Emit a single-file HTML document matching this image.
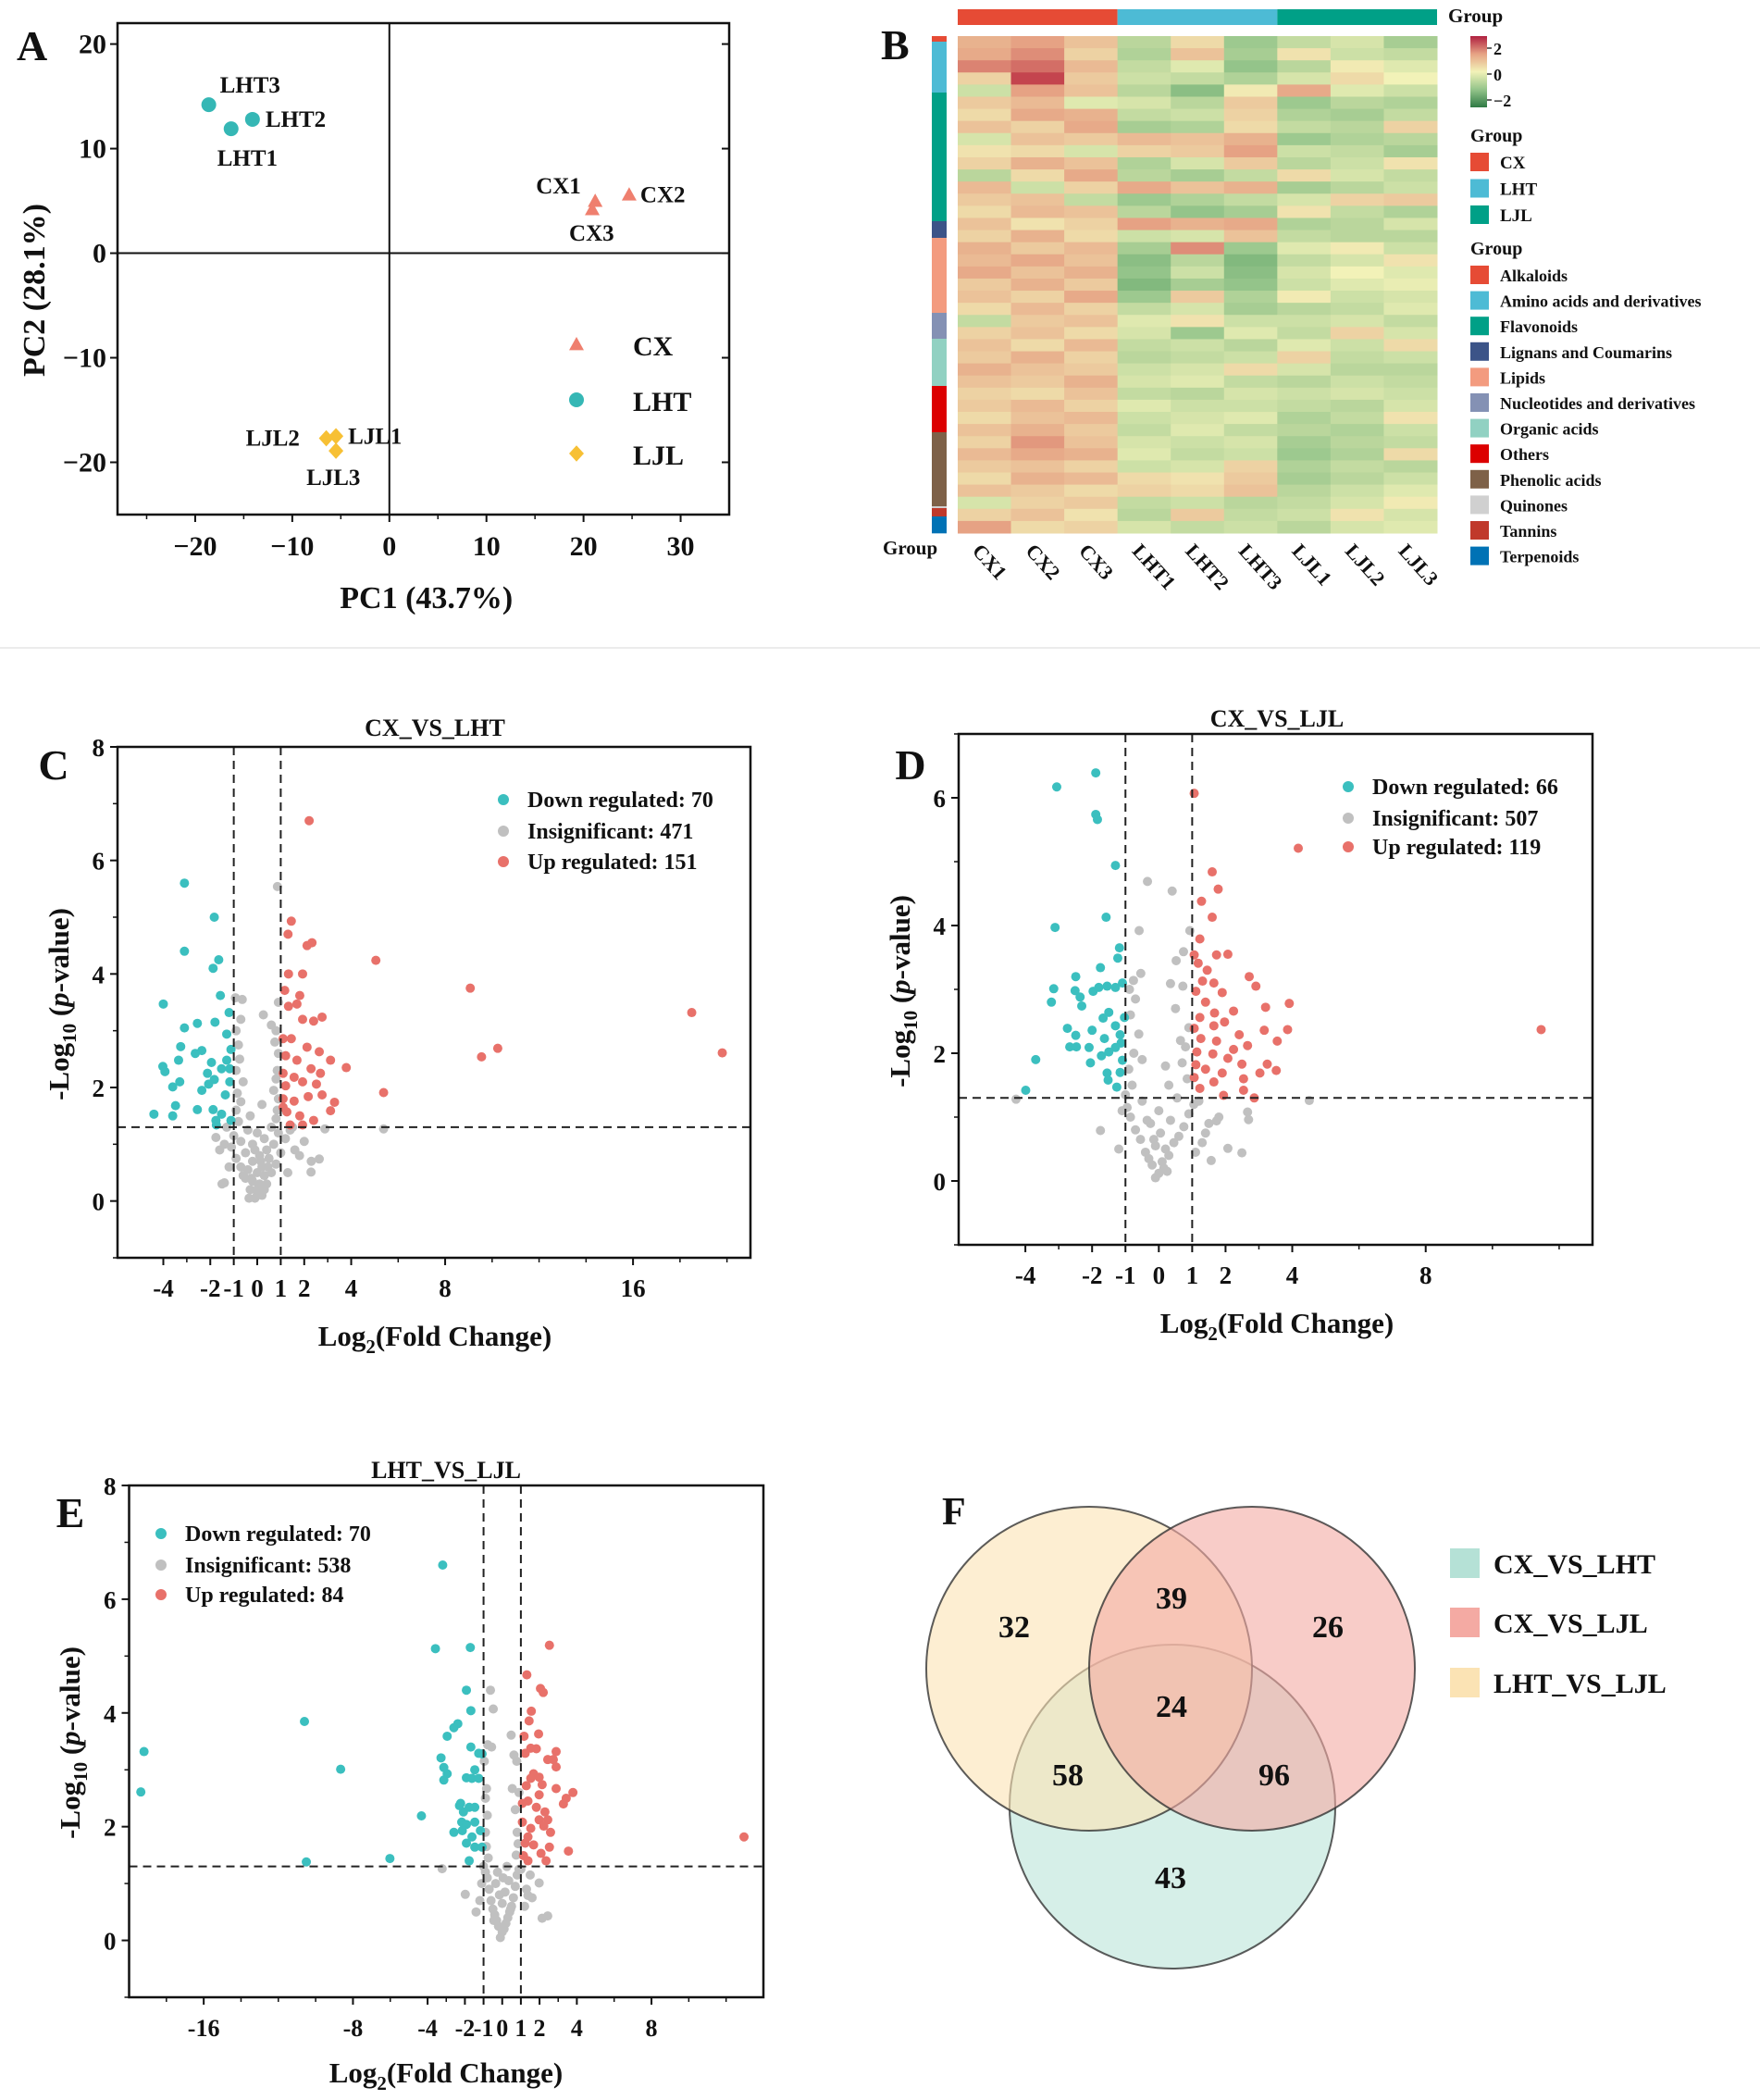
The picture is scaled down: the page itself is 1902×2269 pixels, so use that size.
<!DOCTYPE html>
<html><head><meta charset="utf-8"><style>
html,body{margin:0;padding:0;background:#fff}
svg{display:block}
text{font-family:"Liberation Serif",serif;font-weight:bold;fill:#111}
</style></head><body>
<svg id="fig" width="1902" height="2269" viewBox="0 0 1902 2269" xmlns="http://www.w3.org/2000/svg">
<line x1="0" y1="700" x2="1902" y2="700" stroke="#ececec" stroke-width="2"/>
<g id="pA"></g>
<g id="pB"></g>
<g id="pC"></g>
<g id="pD"></g>
<g id="pE"></g>
<g id="pF"></g>
</svg>
<script>
// ---------- Panel A data ----------
const pcaNames = ["LHT3","LHT2","LHT1","CX1","CX2","CX3","LJL2","LJL1","LJL3"];
const pcaX = [-18.6,-14.1,-16.3,21.2,24.7,20.9,-6.5,-5.5,-5.5];
const pcaY = [14.2,12.8,11.9,5.0,5.6,4.2,-17.7,-17.5,-18.9];
const pcaGroup = ["LHT","LHT","LHT","CX","CX","CX","LJL","LJL","LJL"];
const pcaXTicks = [-20,-10,0,10,20,30];
const pcaYTicks = [-20,-10,0,10,20];
// ---------- Panel B data ----------
const hmCols = ["CX1","CX2","CX3","LHT1","LHT2","LHT3","LJL1","LJL2","LJL3"];
const hmVals = [
[0.8,1.0,0.6,-0.6,0.3,-0.9,-0.5,-0.3,-0.8],
[0.9,1.2,0.4,-0.7,0.6,-0.8,0.2,-0.4,-0.5],
[1.3,1.5,0.7,-0.5,-0.2,-1.0,-0.6,0.1,-0.2],
[0.4,1.9,0.5,-0.4,-0.5,-0.7,-0.3,0.3,0.0],
[-0.4,1.0,0.6,-0.6,-1.1,0.1,0.9,-0.2,-0.4],
[0.5,0.7,-0.2,-0.3,-0.6,0.5,-0.9,-0.6,-0.7],
[0.3,0.9,0.8,-0.5,-0.4,0.4,-0.7,-0.8,-0.5],
[0.6,0.4,0.9,-0.8,-0.7,0.3,-0.5,-0.6,0.4],
[-0.3,0.6,0.5,0.7,0.6,0.8,-0.9,-0.7,-0.6],
[0.2,0.3,-0.3,0.4,0.5,1.0,-0.4,-0.5,-0.8],
[0.4,0.8,0.6,-0.7,-0.3,0.5,-0.6,-0.4,0.2],
[-0.6,0.3,0.9,-0.6,-0.8,-0.5,0.3,-0.3,-0.5],
[0.7,-0.4,0.4,0.9,0.6,0.8,-0.8,-0.6,-0.4],
[0.5,0.6,-0.5,-0.9,-0.7,-0.5,-0.3,0.4,0.5],
[0.3,0.7,0.6,-0.6,-1.0,-0.8,0.2,-0.5,-0.7],
[0.6,0.2,0.4,1.0,0.8,0.9,-0.7,-0.6,-0.3],
[0.4,0.8,0.3,-0.4,-0.3,0.6,-0.5,-0.6,-0.6],
[0.8,0.5,0.7,-0.8,1.2,-0.9,-0.2,0.1,-0.4],
[0.7,0.9,0.6,-1.1,-0.6,-1.2,-0.5,-0.3,0.2],
[0.9,0.6,0.8,-1.0,-0.4,-1.1,-0.3,0.0,-0.2],
[0.5,0.8,0.5,-1.2,-0.8,-1.0,-0.4,-0.2,-0.1],
[0.6,0.4,0.9,-0.9,0.5,-0.7,0.1,-0.4,-0.3],
[0.3,0.7,0.4,-0.5,-0.3,-0.8,-0.6,-0.5,-0.2],
[-0.5,0.5,0.6,-0.2,0.2,-0.4,-0.4,-0.3,-0.5],
[0.4,0.6,0.3,-0.3,-0.9,-0.2,-0.5,0.4,-0.3],
[0.6,0.3,0.7,-0.5,-0.4,-0.6,-0.2,-0.4,0.3],
[0.5,0.8,0.4,-0.6,-0.5,-0.4,0.4,-0.5,-0.4],
[0.8,0.6,0.5,-0.4,-0.3,0.3,-0.3,-0.6,-0.6],
[0.6,0.5,0.8,-0.3,-0.2,-0.5,-0.6,-0.4,-0.5],
[0.4,0.3,0.6,-0.5,-0.6,-0.3,-0.4,-0.3,-0.4],
[0.5,0.7,0.4,-0.2,-0.4,-0.4,-0.5,-0.6,-0.3],
[0.3,0.6,0.7,-0.4,-0.3,-0.2,-0.7,-0.5,0.2],
[0.6,0.8,0.5,-0.5,-0.2,-0.5,-0.6,-0.7,-0.4],
[0.4,1.1,0.6,-0.3,-0.4,-0.3,-0.8,-0.6,-0.5],
[0.7,0.9,0.8,-0.2,-0.5,-0.4,-0.9,-0.7,0.3],
[0.5,0.6,0.4,-0.4,-0.3,0.4,-0.7,-0.5,-0.6],
[0.3,0.8,0.7,0.3,0.2,0.5,-0.8,-0.6,-0.4],
[0.6,0.5,0.3,0.4,0.3,0.6,-0.6,-0.4,-0.2],
[-0.3,0.4,0.5,-0.5,-0.4,-0.6,-0.5,-0.3,0.1],
[0.4,0.6,0.2,-0.6,0.5,-0.5,-0.4,0.2,-0.3],
[1.0,0.3,0.4,-0.3,-0.5,-0.4,-0.6,-0.3,-0.2]
];
const catNames = ["Alkaloids","Amino acids and derivatives","Flavonoids","Lignans and Coumarins","Lipids","Nucleotides and derivatives","Organic acids","Others","Phenolic acids","Quinones","Tannins","Terpenoids"];
const catColors = ["#e64b35","#4dbbd5","#00a087","#3c5488","#f39b7f","#8491b4","#91d1c2","#dc0000","#7e6148","#d0d0d0","#c0392b","#0072b5"];
const catCounts = [6,55,139,18,81,28,51,50,80,2,9,18];
const grpNames = ["CX","LHT","LJL"];
const grpColors = ["#e64b35","#4dbbd5","#00a087"];
// ---------- Volcano data ----------
const cTitle="CX_VS_LHT", cCounts=[70,471,151];
const cDownX=[-3.1,-1.83,-3.1,-1.64,-1.88,-1.57,-4,-1.2,-3.1,-2.55,-1.8,-1.3,-3.26,-2.36,-2.64,-1.12,-4.02,-3.35,-1.95,-1.3,-3.93,-2.12,-1.83,-1.52,-1.17,-3.3,-2.36,-3.6,-2.07,-1.36,-4.4,-3.6,-3.48,-2.55,-1.88,-1.76,-1.52,-1.12,-1.17,-1.74];
const cDownY=[5.6,5.0,4.4,4.25,4.1,3.62,3.47,3.32,3.05,3.13,3.15,2.94,2.72,2.65,2.6,2.67,2.37,2.48,2.44,2.48,2.28,2.25,2.14,2.33,2.33,2.1,1.95,2.01,2.06,1.87,1.53,1.5,1.68,1.61,1.61,1.42,1.53,1.42,2.1,1.34];
const cUpX=[2.21,1.45,1.31,2.33,2.12,5.05,9.07,18.5,19.8,10.24,9.55,5.38,3.79,3.12,1.93,1.33,1.17,1.81,1.69,2.76,2.4,1.33,1.93,1.1,1.45,2.12,2.64,1.21,1.69,1.1,1.57,2.29,2.69,1.21,1.93,2.52,1.1,1.57,2.17,3.29,1.26,1.81,2.4,3.12,1.4,1.93,1.1,2.76];
const cUpY=[6.7,4.93,4.7,4.55,4.5,4.24,3.75,3.32,2.61,2.69,2.54,1.91,2.35,2.48,4.0,4.0,3.71,3.62,3.47,3.24,3.17,3.43,3.2,2.86,2.86,2.71,2.63,2.56,2.48,2.25,2.18,2.33,2.25,2.03,2.1,2.06,1.8,1.76,1.84,1.74,1.57,1.5,1.42,1.59,1.34,1.34,1.65,1.87];
const cNsX=[0.86,-0.93,-0.64,0.26,0.9,5.38,2.88,2.64,2.29,-1.4,-1.76,-0.1,0,0.2,-0.3,0.1,-0.2,0.4,-0.5,0.3,0,-0.4,0.6,-0.7,0.2,0.8,-0.2,0.5,-0.9,0.1,-0.5,1.0,0.4,-1.1,-0.2,0.7,-0.7,0.3,1.2,-1.0,0.0,0.9,-0.4,0.6,-1.3,1.4,-0.8,0.8,-0.9,0.85,-0.7,0.9,-0.85,0.7,-0.6,0.8,-0.9,0.85,-0.75,0.9,-0.8,0.75,-0.9,0.6,-0.7,0.8,-1.5,-1.2,1.3,1.6,-1.4,1.8,2.0,2.3,-1.6,1.5,-0.3,0.2,-0.1,0.3,-0.35,0.05,-0.25,0.45,-0.6,0.15];
const cNsY=[5.54,3.58,3.55,3.28,3.5,1.27,1.27,0.74,0.51,0.32,1.12,0.05,0.15,0.1,0.2,0.3,0.35,0.3,0.4,0.45,0.5,0.55,0.5,0.6,0.6,0.65,0.7,0.75,0.75,0.8,0.85,0.85,0.9,0.95,1.0,1.0,1.05,1.1,1.1,1.15,1.2,1.2,1.25,1.3,1.3,1.25,1.4,1.45,1.6,1.6,1.75,1.8,1.9,1.95,2.1,2.15,2.3,2.3,2.5,2.6,2.75,2.8,3.0,3.1,3.2,3.0,0.3,0.6,0.5,0.9,1.0,0.8,1.05,0.7,0.9,1.3,1.5,1.7,0.9,0.2,0.05,0.25,0.4,0.6,0.45,0.7];
const cXTicks=[-4,-2,-1,0,1,2,4,8,16];
const dTitle="CX_VS_LJL", dCounts=[66,507,119];
const dDownX=[-1.89,-3.06,-1.89,-1.84,-1.3,-1.58,-3.11,-1.18,-1.23,-1.75,-2.49,-3.15,-3.22,-2.51,-1.97,-1.8,-1.55,-1.3,-1.09,-2.36,-2.31,-1.5,-1.67,-1.03,-2.74,-2.0,-1.3,-1.16,-2.49,-1.63,-1.13,-2.67,-2.47,-2.09,-1.3,-1.72,-1.5,-1.09,-2.05,-3.69,-1.55,-1.16,-1.52,-1.26,-3.99];
const dDownY=[6.39,6.17,5.74,5.66,4.94,4.13,3.97,3.65,3.49,3.34,3.2,3.01,2.8,2.98,2.97,3.03,3.05,3.03,3.1,2.88,2.74,2.64,2.55,2.56,2.39,2.36,2.43,2.29,2.28,2.23,2.16,2.1,2.1,2.09,2.09,1.96,2.02,1.89,1.85,1.9,1.69,1.7,1.58,1.47,1.42];
const dUpX=[1.06,4.18,1.6,1.78,1.28,1.6,1.23,1.06,1.73,2.07,1.18,1.45,2.71,2.91,1.65,1.31,1.11,1.9,3.91,1.4,3.2,2.24,1.67,1.23,1.97,1.06,1.65,3.16,3.86,2.41,1.26,1.73,3.55,2.66,2.24,1.14,1.62,2.07,2.49,3.25,1.11,1.4,3.52,3.03,1.9,1.06,1.65,2.54,1.23,2.54,2.86,1.94,11.46];
const dUpY=[6.07,5.21,4.84,4.57,4.38,4.13,3.79,3.54,3.54,3.55,3.41,3.3,3.2,3.05,3.1,3.13,2.97,2.95,2.78,2.8,2.72,2.66,2.63,2.56,2.49,2.39,2.43,2.36,2.37,2.29,2.23,2.19,2.19,2.12,2.06,2.02,1.99,1.92,1.83,1.83,1.82,1.75,1.73,1.69,1.69,1.62,1.55,1.6,1.45,1.42,1.3,1.34,2.37];
const dNsX=[-0.34,0.4,-0.59,0.93,0.74,0.52,-0.54,-0.76,0.35,0.72,-0.88,-4.28,4.51,-1.75,2.66,2.69,2.07,2.49,1.57,1.73,-0.1,0,0.15,-0.2,0.1,-0.3,0.3,-0.4,0.2,-0.1,0.45,-0.55,0.6,0.05,-0.7,0.75,-0.25,0.35,-0.85,0.9,0.0,-0.95,1.05,-0.5,0.55,-1.0,1.2,-0.8,0.85,-0.9,0.7,-0.75,0.8,-0.6,0.9,-0.85,0.5,-0.7,0.65,-0.5,0.3,1.3,1.5,-1.2,1.8,1.4,-1.1,1.1,0.2,-0.15,0.25,-0.35];
const dNsY=[4.69,4.54,3.92,3.92,3.59,3.45,3.25,3.14,3.09,3.05,3.0,1.28,1.26,0.79,1.08,0.96,0.51,0.44,0.32,0.94,0.05,0.12,0.2,0.25,0.3,0.35,0.4,0.45,0.5,0.55,0.6,0.65,0.7,0.75,0.8,0.85,0.9,0.95,1.0,1.05,1.1,1.15,1.2,1.25,1.3,1.35,1.25,1.5,1.6,1.75,1.85,2.0,2.1,2.3,2.4,2.6,2.7,2.85,2.2,1.9,1.5,0.6,0.9,0.5,1.0,0.75,1.1,0.45,1.8,0.65,0.15,0.95];
const dXTicks=[-4,-2,-1,0,1,2,4,8];
const eTitle="LHT_VS_LJL", eCounts=[70,538,84];
const eDownX=[-3.19,-3.58,-1.71,-1.92,-1.68,-10.6,-19.2,-19.37,-8.66,-4.33,-10.5,-6.02,-2.38,-2.59,-2.95,-3.28,-3.13,-2.95,-3.13,-1.68,-1.26,-1.08,-1.92,-1.47,-1.62,-1.26,-2.23,-1.77,-1.47,-2.08,-2.59,-2.17,-1.92,-1.47,-1.17,-2.14,-1.62,-1.92,-1.47,-1.08,-1.77,-2.29];
const eDownY=[6.6,5.13,5.15,4.4,4.04,3.85,3.32,2.61,3.01,2.19,1.38,1.44,3.81,3.74,3.59,3.21,3.04,2.93,2.82,3.4,3.29,3.28,2.86,3.0,2.85,2.85,2.41,2.34,2.34,2.26,1.9,2.08,2.04,2.08,1.93,1.93,1.82,1.71,1.64,1.64,1.4,2.37];
const eUpX=[2.53,1.32,2.05,2.2,1.56,1.44,1.95,1.17,2.89,1.83,1.23,1.53,2.74,2.44,2.89,1.68,1.98,1.53,2.14,2.89,1.29,3.79,3.43,3.28,1.98,1.38,1.08,1.83,2.29,2.44,1.98,1.08,1.53,2.23,2.59,1.38,1.23,1.68,3.55,2.53,1.14,2.08,2.35,1.38,12.96];
const eUpY=[5.19,4.67,4.43,4.36,4.03,3.86,3.63,3.59,3.32,3.37,3.29,3.38,3.18,3.18,3.05,2.93,2.87,2.85,2.74,2.67,2.72,2.6,2.5,2.4,2.56,2.45,2.41,2.34,2.26,2.12,2.12,2.08,1.97,2.01,1.9,1.82,1.71,1.68,1.57,1.64,1.49,1.53,1.4,1.4,1.82];
const eNsX=[-0.63,-0.48,0.48,-0.78,-0.57,0.63,-0.96,0.78,-0.84,0.54,-3.22,-1.98,2.14,2.44,1.98,1.38,-0.1,0,0.1,-0.2,0.2,-0.3,0.3,-0.4,0.4,-0.5,0.5,0.0,-0.6,0.6,-0.15,0.15,-0.7,0.7,-0.35,0.35,-0.8,0.8,-0.9,0.9,-1.0,1.0,-0.75,0.75,-0.85,0.85,-0.9,0.8,-0.8,0.7,-0.9,0.9,-1.2,1.3,-1.1,1.2,0.05,-0.25,0.25,-0.45,0.45,1.5,-1.4,1.6];
const eNsY=[4.4,4.07,3.61,3.44,3.4,3.26,3.15,3.15,2.67,2.67,1.26,0.81,0.39,0.43,1.01,0.79,0.05,0.15,0.2,0.25,0.3,0.35,0.4,0.45,0.5,0.55,0.6,0.65,0.7,0.75,0.8,0.85,0.9,0.95,1.0,1.05,1.1,1.15,1.2,1.25,1.3,1.25,1.45,1.5,1.65,1.7,1.9,1.9,2.2,2.3,2.5,2.6,0.7,0.9,1.0,0.6,1.1,1.2,1.3,0.35,0.55,1.15,0.5,0.75];
const eXTicks=[-16,-8,-4,-2,-1,0,1,2,4,8];
// ---------- Venn data ----------
const vennSets = ["CX_VS_LHT","CX_VS_LJL","LHT_VS_LJL"];
const vennColors = ["#b5e1d6","#f4aaa3","#fbe3b4"];
const vennRegions = ["32","39","26","24","58","96","43"];

const NS="http://www.w3.org/2000/svg";
function mk(parent, tag, attrs, txt){
  const e=document.createElementNS(NS,tag);
  for(const k in attrs) e.setAttribute(k,attrs[k]);
  if(txt!==undefined) e.textContent=txt;
  parent.appendChild(e); return e;
}
function fmtMinus(v){return v<0?"\u2212"+Math.abs(v):String(v);}

// ================= Panel A =================
(function(){
  const g=document.getElementById('pA');
  const L=127,R=788,T=25,B=556;
  const xmin=-28,xmax=35,ymin=-25,ymax=22;
  const sx=v=>L+(v-xmin)/(xmax-xmin)*(R-L);
  const sy=v=>B-(v-ymin)/(ymax-ymin)*(B-T);
  let f=mk(g,'rect',{x:L,y:T,width:R-L,height:B-T,fill:'none',stroke:'#111','stroke-width':2.5});
   
  mk(g,'line',{x1:sx(0),x2:sx(0),y1:T,y2:B,stroke:'#111','stroke-width':2});
  mk(g,'line',{x1:L,x2:R,y1:sy(0),y2:sy(0),stroke:'#111','stroke-width':2});
  pcaXTicks.forEach(v=>{
    mk(g,'line',{x1:sx(v),x2:sx(v),y1:B,y2:B+8,stroke:'#111','stroke-width':2});
    const t=mk(g,'text',{x:sx(v),y:B+44,'text-anchor':'middle','font-size':30},fmtMinus(v));
     
  });
  [-25,-15,-5,5,15,25].forEach(v=>mk(g,'line',{x1:sx(v),x2:sx(v),y1:B,y2:B+5,stroke:'#111','stroke-width':1.5}));
  pcaYTicks.forEach(v=>{
    mk(g,'line',{x1:L-8,x2:L,y1:sy(v),y2:sy(v),stroke:'#111','stroke-width':2});
    mk(g,'line',{x1:R-8,x2:R,y1:sy(v),y2:sy(v),stroke:'#111','stroke-width':2});
    const t=mk(g,'text',{x:L-12,y:sy(v)+10,'text-anchor':'end','font-size':30},fmtMinus(v));
     
  });
  let t=mk(g,'text',{x:sx(0)+40,y:657,'text-anchor':'middle','font-size':34},'PC1 (43.7%)');
   
  t=mk(g,'text',{x:0,y:0,'text-anchor':'middle','font-size':34,transform:'translate(48,'+(sy(0)+40)+') rotate(-90)'},'PC2 (28.1%)');
   
  t=mk(g,'text',{x:18,y:65,'font-size':46},'A');
   
  const col={CX:'#ef7f6e',LHT:'#35b7b5',LJL:'#f7c034'};
  function marker(grp,x,y,s){
    if(grp==='CX') return mk(g,'polygon',{points:`${x},${y-s} ${x+s},${y+s*0.8} ${x-s},${y+s*0.8}`,fill:col.CX});
    if(grp==='LHT') return mk(g,'circle',{cx:x,cy:y,r:s,fill:col.LHT});
    return mk(g,'polygon',{points:`${x},${y-s*1.1} ${x+s},${y} ${x},${y+s*1.1} ${x-s},${y}`,fill:col.LJL});
  }
  const lblOff={LHT3:[12,-13],LHT2:[14,8],LHT1:[-15,40],CX1:[-64,-8],CX2:[12,8],CX3:[-25,34],LJL2:[-87,8],LJL1:[13,8],LJL3:[-32,37]};
  pcaNames.forEach((n,i)=>{
    const x=sx(pcaX[i]),y=sy(pcaY[i]);
    const m=marker(pcaGroup[i],x,y,8);
     
    const o=lblOff[n];
    const tl=mk(g,'text',{x:x+o[0],y:y+o[1],'font-size':25},n);
     
  });
  [['CX',372],['LHT',432],['LJL',490]].forEach(([n,y])=>{
    const m=marker(n,623,y,8);
     
    const tl=mk(g,'text',{x:684,y:y+12,'font-size':30},n);
     
  });
})();

// ================= Panel B =================
(function(){
  const g=document.getElementById('pB');
  const L=1035,R=1553,T=39,B=576;
  const cw=(R-L)/hmCols.length, rh=(B-T)/hmVals.length;
  const stops=[[-2,[60,140,80]],[-1,[148,196,138]],[0,[242,242,184]],[1,[230,162,132]],[2,[192,58,72]]];
  function color(v){
    v=Math.max(-2,Math.min(2,v));
    for(let i=0;i<stops.length-1;i++){
      if(v<=stops[i+1][0]){const a=stops[i],b=stops[i+1],t=(v-a[0])/(b[0]-a[0]);
        return 'rgb('+a[1].map((c,k)=>Math.round(c+(b[1][k]-c)*t)).join(',')+')';}
    }
    return 'rgb(192,58,72)';
  }
  hmVals.forEach((row,r)=>row.forEach((v,c)=>{
    const cell=mk(g,'rect',{x:L+c*cw,y:T+r*rh,width:cw+0.5,height:rh+0.5,fill:color(v)});
     
  }));
  grpNames.forEach((n,i)=>{
    const b=mk(g,'rect',{x:L+i*3*cw,y:10,width:3*cw,height:17,fill:grpColors[i]});
     
  });
  let t=mk(g,'text',{x:1565,y:24,'font-size':21},'Group');
   
  const total=catCounts.reduce((a,b)=>a+b,0); let y=T;
  catCounts.forEach((c,i)=>{
    const h=c/total*(B-T);
    const s=mk(g,'rect',{x:1007,y:y,width:16,height:h+0.3,fill:catColors[i]});
     
    y+=h;
  });
  t=mk(g,'text',{x:954,y:599,'font-size':21},'Group');
   
  hmCols.forEach((n,i)=>{
    const cx=L+(i+0.5)*cw-14;
    const tl=mk(g,'text',{x:0,y:0,'font-size':22,transform:`translate(${cx},596) rotate(48)`},n);
     
  });
  const defs=mk(g,'defs',{});
  const lg=mk(defs,'linearGradient',{id:'cbar',x1:0,y1:0,x2:0,y2:1});
  [[0,'#b02040'],[0.25,'#e6a284'],[0.5,'#f2f2b8'],[0.75,'#94c48a'],[1,'#2f7a45']].forEach(s=>mk(lg,'stop',{offset:s[0],'stop-color':s[1]}));
  const cb=mk(g,'rect',{x:1589,y:39,width:18,height:77,fill:'url(#cbar)'});
   
  [['2',52],['0',80],['\u22122',108]].forEach(([s,yy])=>{
    mk(g,'line',{x1:1607,x2:1612,y1:yy,y2:yy,stroke:'#333','stroke-width':1.5});
    const tl=mk(g,'text',{x:1614,y:yy+7,'font-size':18},s);
     
  });
  t=mk(g,'text',{x:1589,y:153,'font-size':20},'Group');
   
  grpNames.forEach((n,i)=>{
    const yy=175+i*28.5;
    const s=mk(g,'rect',{x:1589,y:yy-10,width:20,height:20,fill:grpColors[i]});
     
    const tl=mk(g,'text',{x:1621,y:yy+7,'font-size':19},n);
     
  });
  t=mk(g,'text',{x:1589,y:275,'font-size':20},'Group');
   
  catNames.forEach((n,i)=>{
    const yy=297+i*27.6;
    const s=mk(g,'rect',{x:1589,y:yy-10,width:20,height:20,fill:catColors[i]});
     
    const tl=mk(g,'text',{x:1621,y:yy+7,'font-size':18},n);
     
  });
  t=mk(g,'text',{x:952,y:64,'font-size':46},'B');
   
})();

// ================= Volcano =================
function volcano(id,cfg){
  const g=document.getElementById(id);
  const {L,R,T,B,xmin,xmax,ymin,ymax}=cfg;
  const sx=v=>L+(v-xmin)/(xmax-xmin)*(R-L);
  const sy=v=>B-(v-ymin)/(ymax-ymin)*(B-T);
  const cp='clip'+id;
  const d=mk(g,'defs',{}); const c=mk(d,'clipPath',{id:cp}); mk(c,'rect',{x:L,y:T,width:R-L,height:B-T});
  const pts=mk(g,'g',{'clip-path':`url(#${cp})`});
  function draw(xs,ys,fill,name){
    xs.forEach((x,i)=>{
      const p=mk(pts,'circle',{cx:sx(x),cy:sy(ys[i]),r:5,fill:fill});
       
    });
  }
  draw(cfg.nsX,cfg.nsY,'#c0c0c0','insignificant-point');
  draw(cfg.downX,cfg.downY,'#3bbfbf','down-regulated-point');
  draw(cfg.upX,cfg.upY,'#e8716a','up-regulated-point');
  const dash={stroke:'#222','stroke-width':2,'stroke-dasharray':'9,6'};
  let l=mk(g,'line',Object.assign({x1:L,x2:R,y1:sy(1.3),y2:sy(1.3)},dash));
   
  [-1,1].forEach(v=>{const q=mk(g,'line',Object.assign({x1:sx(v),x2:sx(v),y1:T,y2:B},dash));
     });
  const fr=mk(g,'rect',{x:L,y:T,width:R-L,height:B-T,fill:'none',stroke:'#111','stroke-width':2.5});
   
  cfg.xticks.forEach(v=>{
    mk(g,'line',{x1:sx(v),x2:sx(v),y1:B,y2:B+8,stroke:'#111','stroke-width':2});
    const t=mk(g,'text',{x:sx(v),y:cfg.tickY,'text-anchor':'middle','font-size':cfg.tfs||27},String(v));
     
  });
  (cfg.minor||[]).forEach(v=>mk(g,'line',{x1:sx(v),x2:sx(v),y1:B,y2:B+5,stroke:'#111','stroke-width':1.5}));
  for(let v=Math.ceil(ymin);v<=ymax;v++){
    const major=v%2===0;
    mk(g,'line',{x1:L-(major?8:5),x2:L,y1:sy(v),y2:sy(v),stroke:'#111','stroke-width':major?2:1.5});
    if(major&&v>=0){const t=mk(g,'text',{x:L-14,y:sy(v)+10,'text-anchor':'end','font-size':27},String(v));
       }
  }
  let t=mk(g,'text',{x:cfg.titleX,y:cfg.titleY,'text-anchor':'middle','font-size':26},cfg.title);
   
  t=mk(g,'text',{x:cfg.titleX,y:cfg.axY,'text-anchor':'middle','font-size':31});
   
  mk(t,'tspan',{},'Log');mk(t,'tspan',{'font-size':21,dy:8},'2');mk(t,'tspan',{dy:-8},'(Fold Change)');
  t=mk(g,'text',{x:0,y:0,'text-anchor':'middle','font-size':31,transform:`translate(${cfg.ylX},${cfg.ylY}) rotate(-90)`});
   
  mk(t,'tspan',{},'-Log');mk(t,'tspan',{'font-size':21,dy:8},'10');mk(t,'tspan',{dy:-8},' (');
  mk(t,'tspan',{'font-style':'italic'},'p');mk(t,'tspan',{},'-value)');
  t=mk(g,'text',{x:cfg.letX,y:cfg.letY,'text-anchor':'middle','font-size':46},cfg.letter);
   
  const labs=['Down regulated: ','Insignificant: ','Up regulated: '];
  const cols=['#3bbfbf','#c0c0c0','#e8716a'];
  labs.forEach((s,i)=>{
    const yy=cfg.legY[i];
    const dt=mk(g,'circle',{cx:cfg.legX,cy:yy,r:6,fill:cols[i]});
     
    const tl=mk(g,'text',{x:cfg.legX+26,y:yy+8,'font-size':24},s+cfg.counts[i]);
     
  });
}
volcano('pC',{L:127,R:811,T:807,B:1359,xmin:-5.95,xmax:21,ymin:-1,ymax:8,xticks:cXTicks,minor:[-3,3,6,10,12,14,18,20],tickY:1401,
  downX:cDownX,downY:cDownY,upX:cUpX,upY:cUpY,nsX:cNsX,nsY:cNsY,title:cTitle,counts:cCounts,titleX:470,titleY:795,axY:1454,ylX:74,ylY:1085,letX:58,letY:842,letter:'C',legX:544,legY:[864,898,931]});
volcano('pD',{L:1036,R:1721,T:793,B:1345,xmin:-6,xmax:13,ymin:-1,ymax:7,xticks:dXTicks,minor:[-3,3,6,10,12],tickY:1387,
  downX:dDownX,downY:dDownY,upX:dUpX,upY:dUpY,nsX:dNsX,nsY:dNsY,title:dTitle,counts:dCounts,titleX:1380,titleY:785,axY:1440,ylX:983,ylY:1071,letX:984,letY:842,letter:'D',legX:1457,legY:[850,884,915]});
volcano('pE',{L:139.5,R:825,T:1605,B:2158,xmin:-20,xmax:14,ymin:-1,ymax:8,xticks:eXTicks,minor:[-18,-14,-12,-10,-6,-3,3,6,10,12],tickY:2200,tfs:26,
  downX:eDownX,downY:eDownY,upX:eUpX,upY:eUpY,nsX:eNsX,nsY:eNsY,title:eTitle,counts:eCounts,titleX:482,titleY:1597,axY:2250,ylX:86,ylY:1883,letX:76,letY:1650,letter:'E',legX:174,legY:[1657,1691,1723]});

// ================= Panel F =================
(function(){
  const g=document.getElementById('pF');
  const circ=[[1267,1952],[1353,1803],[1177,1803]];
  const ops=[0.55,0.6,0.6];
  [0,2,1].forEach(i=>{
    const c=mk(g,'ellipse',{cx:circ[i][0],cy:circ[i][1],rx:176,ry:175,fill:vennColors[i],'fill-opacity':ops[i],stroke:'#333','stroke-width':2,'stroke-opacity':0.8});
     
  });
  const pos=[[1096,1757],[1266,1726],[1435,1757],[1266,1843],[1154,1917],[1377,1917],[1265,2028]];
  vennRegions.forEach((v,i)=>{
    const t=mk(g,'text',{x:pos[i][0],y:pos[i][1]+12,'text-anchor':'middle','font-size':34},v);
     
  });
  const ly=[1689,1753,1818];
  vennSets.forEach((n,i)=>{
    const s=mk(g,'rect',{x:1567,y:ly[i]-16,width:32,height:32,fill:vennColors[i]});
     
    const t=mk(g,'text',{x:1614,y:ly[i]+11,'font-size':30,fill:'#333'},n);
     
  });
  const t=mk(g,'text',{x:1018,y:1647,'font-size':42},'F');
   
})();
</script>
</body></html>
